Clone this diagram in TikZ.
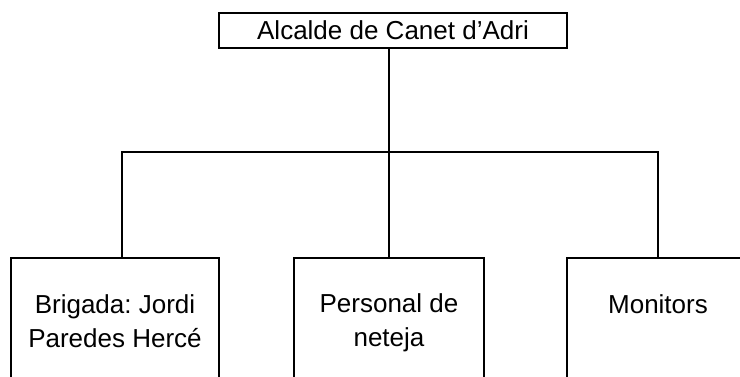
\documentclass[tikz,border=0pt]{standalone}
\usepackage{fontspec}
\setmainfont{Liberation Sans}
\frenchspacing
\begin{document}
\begin{tikzpicture}[x=1pt,y=-1pt,
  line width=2pt,
  orgbox/.style={draw=black, line width=2pt, inner sep=0pt, align=center,
    font=\fontsize{26}{34}\selectfont},
  link/.style={draw=black, line width=2pt}]
\useasboundingbox (0,0) rectangle (740,376);
\clip (0,0) rectangle (740,376);
\node[orgbox, minimum width=348pt, minimum height=35pt] (top) at (393,30) {Alcalde de Canet d’Adri};
\node[orgbox, minimum width=208pt, minimum height=126pt, anchor=north] (brig) at (115,257) {Brigada: Jordi\\Paredes Hercé};
\node[orgbox, minimum width=190pt, minimum height=130pt, anchor=north] (pers) at (389,257) {Personal de\\neteja};
\node[orgbox, minimum width=182pt, minimum height=126pt, anchor=north] (mon) at (658,257) {Monitors\\\phantom{M}};
\coordinate (jL) at (122,152);
\coordinate (jR) at (658,152);
\coordinate (jC) at (389,152);
\draw[link] (top.south -| jC) -- (pers.north -| jC);
\draw[link] (brig.north -| jL) -- (jL) -- (jR) -- (mon.north -| jR);
\end{tikzpicture}
\end{document}
